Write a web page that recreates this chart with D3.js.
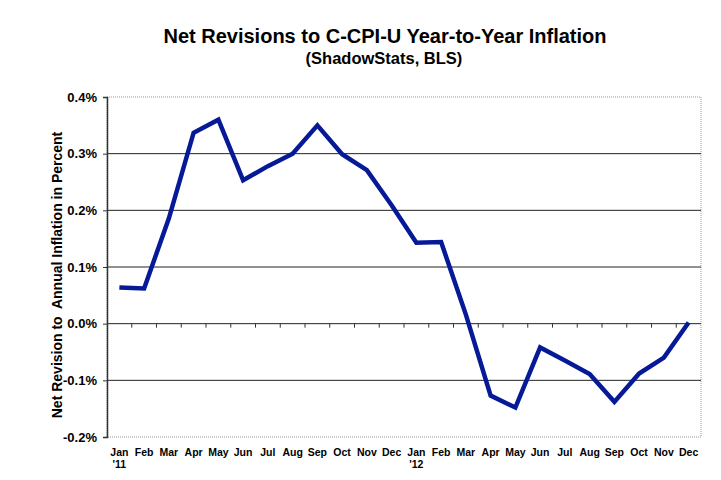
<!DOCTYPE html>
<html>
<head>
<meta charset="utf-8">
<script src="https://cdn.jsdelivr.net/npm/d3@7"></script>
<style>
body { margin: 0; background: #fff; }
text { font-family: "Liberation Sans", Arial, sans-serif; font-weight: bold; fill: #000; }
</style>
</head>
<body>
<svg width="721" height="480"></svg>
<script>
let svg = d3.select('svg');

// Data
let months = ['Jan', 'Feb', 'Mar', 'Apr', 'May', 'Jun', 'Jul', 'Aug', 'Sep', 'Oct', 'Nov', 'Dec',
              'Jan', 'Feb', 'Mar', 'Apr', 'May', 'Jun', 'Jul', 'Aug', 'Sep', 'Oct', 'Nov', 'Dec'];
let years = ["'11", '', '', '', '', '', '', '', '', '', '', '',
             "'12", '', '', '', '', '', '', '', '', '', '', ''];
let revisions = [0.064, 0.062, 0.186, 0.337, 0.360, 0.253, 0.278, 0.300, 0.350, 0.299, 0.271, 0.209,
                 0.143, 0.144, 0.016, -0.127, -0.148, -0.042, -0.065, -0.089, -0.138, -0.088, -0.060, 0.002];
let yTicks = [-0.2, -0.1, 0.0, 0.1, 0.2, 0.3, 0.4];

let margin = {top: 97, right: 20, bottom: 43, left: 107};
let innerWidth = 701 - margin.left;
let innerHeight = 437 - margin.top;

let idx = d3.range(months.length);
let xScale = d3.scaleBand().domain(idx).range([0, innerWidth]);
let yScale = d3.scaleLinear().domain([-0.2, 0.4]).range([innerHeight, 0]);

let g = svg.append('g').attr('transform', `translate(${margin.left},${margin.top})`);

// Plot border (dotted grey)
g.append('rect')
    .attr('width', innerWidth).attr('height', innerHeight)
    .attr('fill', 'none').attr('stroke', '#999').attr('stroke-dasharray', '1,1');

// Gridlines
g.selectAll('.grid').data(yTicks.slice(1, -1))
    .enter().append('line')
    .attr('x1', 0).attr('x2', innerWidth)
    .attr('y1', d => yScale(d)).attr('y2', d => yScale(d))
    .attr('stroke', '#222').attr('stroke-width', 1);

// Y axis (plain hyphen for negatives, as in the original)
let yAxis = g.append('g')
    .call(d3.axisLeft(yScale).tickValues(yTicks).tickSize(4).tickPadding(6)
        .tickFormat(d => d.toFixed(1) + '%'));
yAxis.select('.domain').attr('stroke', '#333').attr('stroke-width', 1.5);
yAxis.selectAll('line').attr('stroke', '#333');
yAxis.selectAll('text').attr('font-size', 13).style('font-family', '"Liberation Sans", Arial, sans-serif').style('font-weight', 'bold');

// X tick marks on the zero line at category boundaries
g.selectAll('.xtick').data(idx.slice(1))
    .enter().append('line')
    .attr('x1', d => xScale(d)).attr('x2', d => xScale(d))
    .attr('y1', yScale(0)).attr('y2', yScale(0) + 4)
    .attr('stroke', '#333');

// X labels
g.selectAll('.xlab').data(idx)
    .enter().append('text')
    .attr('x', d => xScale(d) + xScale.bandwidth() / 2)
    .attr('y', innerHeight + 19)
    .attr('text-anchor', 'middle')
    .attr('font-size', 10.5)
    .text(d => months[d]);

g.selectAll('.ylab').data(idx.filter(d => years[d]))
    .enter().append('text')
    .attr('x', d => xScale(d) + xScale.bandwidth() / 2)
    .attr('y', innerHeight + 31)
    .attr('text-anchor', 'middle')
    .attr('font-size', 10.5)
    .text(d => years[d]);

// Line
let line = d3.line()
    .x((d, i) => xScale(i) + xScale.bandwidth() / 2)
    .y(d => yScale(d));

g.append('path')
    .datum(revisions)
    .attr('d', line)
    .attr('fill', 'none')
    .attr('stroke', '#061a98')
    .attr('stroke-width', 4.5)
    .attr('stroke-linejoin', 'miter');

// Titles
svg.append('text')
    .attr('x', 385).attr('y', 43)
    .attr('text-anchor', 'middle')
    .attr('font-size', 20)
    .text('Net Revisions to C-CPI-U Year-to-Year Inflation');

svg.append('text')
    .attr('x', 384).attr('y', 64)
    .attr('text-anchor', 'middle')
    .attr('font-size', 16.5)
    .text('(ShadowStats, BLS)');

svg.append('text')
    .attr('transform', `translate(62, ${margin.top + innerHeight / 2 + 8}) rotate(-90)`)
    .attr('text-anchor', 'middle')
    .attr('font-size', 14)
    .attr('xml:space', 'preserve')
    .text('Net Revision to  Annual Inflation in Percent');
</script>
</body>
</html>
